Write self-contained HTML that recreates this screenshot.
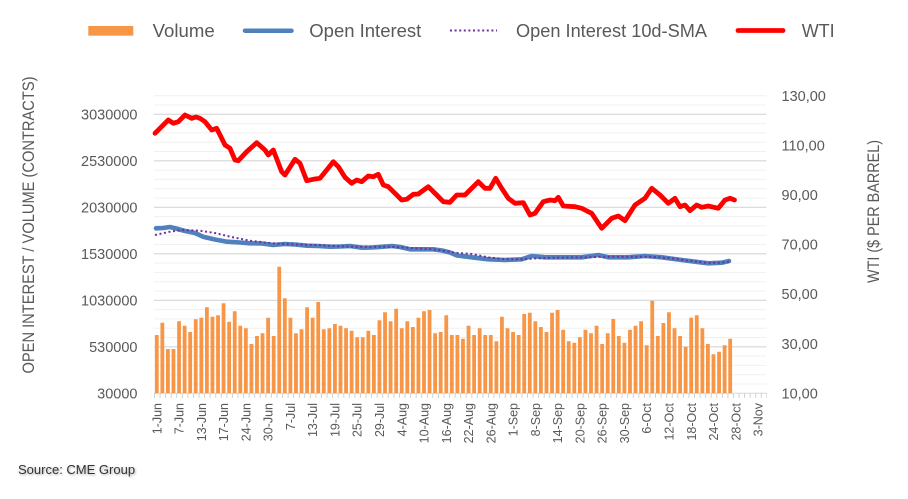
<!DOCTYPE html>
<html><head><meta charset="utf-8"><style>
html,body{margin:0;padding:0;background:#fff;}
body{width:908px;height:499px;overflow:hidden;position:relative;font-family:"Liberation Sans",sans-serif;}
svg{position:absolute;left:0;top:0;}
.src{position:absolute;left:18px;top:462px;font-size:13px;color:#333;text-shadow:1px 1px 2px rgba(0,0,0,0.35);white-space:nowrap;}
</style></head><body>
<svg width="908" height="499" viewBox="0 0 908 499" xmlns="http://www.w3.org/2000/svg" font-family="Liberation Sans, sans-serif">
<!-- minor gridlines -->
<line x1="460.2" y1="95.2" x2="460.2" y2="393.3" stroke="#f0f0f0" stroke-width="612.4" stroke-dasharray="1 8.3"/>
<!-- major gridlines -->
<g stroke="#d9d9d9" stroke-width="1.2">
<line x1="154" y1="346.8" x2="766.4" y2="346.8"/>
<line x1="154" y1="300.3" x2="766.4" y2="300.3"/>
<line x1="154" y1="253.8" x2="766.4" y2="253.8"/>
<line x1="154" y1="207.3" x2="766.4" y2="207.3"/>
<line x1="154" y1="160.8" x2="766.4" y2="160.8"/>
<line x1="154" y1="114.3" x2="766.4" y2="114.3"/>
</g>
<!-- axis + ticks -->
<line x1="154" y1="393.3" x2="766.4" y2="393.3" stroke="#d9d9d9" stroke-width="1"/>
<line x1="154" y1="395.6" x2="767" y2="395.6" stroke="#d0d0d0" stroke-width="4.6" stroke-dasharray="1 4.567"/>
<!-- bars -->
<path fill="#f79646" d="
M154.88 393.3V335h3.8V393.3Z
M160.45 393.3V322.7h3.8V393.3Z
M166.01 393.3V349h3.8V393.3Z
M171.58 393.3V349h3.8V393.3Z
M177.15 393.3V321.3h3.8V393.3Z
M182.72 393.3V325.7h3.8V393.3Z
M188.28 393.3V332h3.8V393.3Z
M193.85 393.3V319.3h3.8V393.3Z
M199.42 393.3V317.7h3.8V393.3Z
M204.98 393.3V307.3h3.8V393.3Z
M210.55 393.3V316.7h3.8V393.3Z
M216.12 393.3V315.3h3.8V393.3Z
M221.68 393.3V303.3h3.8V393.3Z
M227.25 393.3V321.7h3.8V393.3Z
M232.82 393.3V311.3h3.8V393.3Z
M238.39 393.3V325.7h3.8V393.3Z
M243.95 393.3V328.3h3.8V393.3Z
M249.52 393.3V344h3.8V393.3Z
M255.09 393.3V336h3.8V393.3Z
M260.65 393.3V333.3h3.8V393.3Z
M266.22 393.3V317.7h3.8V393.3Z
M271.79 393.3V336h3.8V393.3Z
M277.35 393.3V266.7h3.8V393.3Z
M282.92 393.3V298.3h3.8V393.3Z
M288.49 393.3V317.7h3.8V393.3Z
M294.06 393.3V333.3h3.8V393.3Z
M299.62 393.3V329.3h3.8V393.3Z
M305.19 393.3V307.3h3.8V393.3Z
M310.76 393.3V317.7h3.8V393.3Z
M316.32 393.3V302h3.8V393.3Z
M321.89 393.3V329.3h3.8V393.3Z
M327.46 393.3V328.3h3.8V393.3Z
M333.02 393.3V324h3.8V393.3Z
M338.59 393.3V325.7h3.8V393.3Z
M344.16 393.3V328.3h3.8V393.3Z
M349.73 393.3V330.7h3.8V393.3Z
M355.29 393.3V337.3h3.8V393.3Z
M360.86 393.3V337.3h3.8V393.3Z
M366.43 393.3V330.7h3.8V393.3Z
M371.99 393.3V335h3.8V393.3Z
M377.56 393.3V320.3h3.8V393.3Z
M383.13 393.3V312.3h3.8V393.3Z
M388.69 393.3V321.3h3.8V393.3Z
M394.26 393.3V308.7h3.8V393.3Z
M399.83 393.3V328.3h3.8V393.3Z
M405.40 393.3V321.3h3.8V393.3Z
M410.96 393.3V327h3.8V393.3Z
M416.53 393.3V317.7h3.8V393.3Z
M422.10 393.3V311.3h3.8V393.3Z
M427.66 393.3V310h3.8V393.3Z
M433.23 393.3V333.3h3.8V393.3Z
M438.80 393.3V332h3.8V393.3Z
M444.36 393.3V315.3h3.8V393.3Z
M449.93 393.3V335h3.8V393.3Z
M455.50 393.3V335h3.8V393.3Z
M461.07 393.3V338.7h3.8V393.3Z
M466.63 393.3V325.7h3.8V393.3Z
M472.20 393.3V335h3.8V393.3Z
M477.77 393.3V328.3h3.8V393.3Z
M483.33 393.3V335h3.8V393.3Z
M488.90 393.3V335h3.8V393.3Z
M494.47 393.3V341.3h3.8V393.3Z
M500.03 393.3V316.7h3.8V393.3Z
M505.60 393.3V328.3h3.8V393.3Z
M511.17 393.3V332h3.8V393.3Z
M516.74 393.3V335h3.8V393.3Z
M522.30 393.3V314h3.8V393.3Z
M527.87 393.3V312.7h3.8V393.3Z
M533.44 393.3V321.3h3.8V393.3Z
M539.00 393.3V327h3.8V393.3Z
M544.57 393.3V332h3.8V393.3Z
M550.14 393.3V312.7h3.8V393.3Z
M555.70 393.3V310h3.8V393.3Z
M561.27 393.3V329.7h3.8V393.3Z
M566.84 393.3V341.3h3.8V393.3Z
M572.41 393.3V342.7h3.8V393.3Z
M577.97 393.3V337.3h3.8V393.3Z
M583.54 393.3V329.7h3.8V393.3Z
M589.11 393.3V333.3h3.8V393.3Z
M594.67 393.3V325.7h3.8V393.3Z
M600.24 393.3V344h3.8V393.3Z
M605.81 393.3V333.3h3.8V393.3Z
M611.37 393.3V319h3.8V393.3Z
M616.94 393.3V336h3.8V393.3Z
M622.51 393.3V342.7h3.8V393.3Z
M628.08 393.3V329.7h3.8V393.3Z
M633.64 393.3V325.7h3.8V393.3Z
M639.21 393.3V321.3h3.8V393.3Z
M644.78 393.3V345.3h3.8V393.3Z
M650.34 393.3V300.7h3.8V393.3Z
M655.91 393.3V336h3.8V393.3Z
M661.48 393.3V323h3.8V393.3Z
M667.04 393.3V312.3h3.8V393.3Z
M672.61 393.3V328.3h3.8V393.3Z
M678.18 393.3V336h3.8V393.3Z
M683.75 393.3V346.7h3.8V393.3Z
M689.31 393.3V317.7h3.8V393.3Z
M694.88 393.3V315.3h3.8V393.3Z
M700.45 393.3V328.3h3.8V393.3Z
M706.01 393.3V344h3.8V393.3Z
M711.58 393.3V354.3h3.8V393.3Z
M717.15 393.3V351.7h3.8V393.3Z
M722.71 393.3V345.3h3.8V393.3Z
M728.28 393.3V338.7h3.8V393.3Z"/>
<!-- open interest -->
<polyline fill="none" stroke="#4f81bd" stroke-width="4.6" stroke-linejoin="round" stroke-linecap="round" points="156,228.3 163,228 170,227 176,228.5 185,231 195,233 203,236.7 215,239.5 227,241.7 240,242.5 250,243.3 262,243.5 273,245 285,244 295,244.5 307,245.7 318,246 330,246.7 340,246.5 350,246 362,247.7 372,247.5 383,246.7 392,246 400,247 410,249.3 420,249.3 433,249.3 442,250.5 450,252.5 457,255.5 471.7,257.3 488.3,259.3 505,260 521.7,259.3 531.7,256 545,257.3 565,257.3 581.7,257.3 598.3,255 608.3,257.3 628.3,257.3 645,256 661.7,257.3 681.7,260 695,261.7 708.3,263.3 721.7,262.7 729,261"/>
<!-- SMA -->
<polyline fill="none" stroke="#7030a0" stroke-width="2" stroke-dasharray="2 2.6" points="155,235 170,231.7 183.3,230 200,230.7 216.7,233.3 230,236.7 250,240.7 266.7,242.7 283.3,244 300,244.7 316.7,245 333.3,246 350,246.7 366.7,246.7 383.3,246.7 400,247.3 416.7,248.3 433.3,249.3 450,251.7 455,252.7 471.7,254 488,257.3 505,259.3 521.7,259.3 538,258.3 555,257.7 588,257.3 605,256.7 638,256.7 655,257 671.7,258.3 688.3,260.7 705,262.7 721.7,262.7 730,261.7"/>
<!-- WTI -->
<polyline fill="none" stroke="#ff0000" stroke-width="4.8" stroke-linejoin="round" stroke-linecap="round" points="155,133.3 160,128.3 168.3,120 173.3,123.3 178.3,121.7 185,115 191.7,118.3 196,117 200,118.3 205,121.7 211.7,130 216.7,128.3 225,145 230,148.3 235,160 238.3,160.7 246.7,151.7 256.7,142.7 265,150 268.3,155 273.3,150 281.7,171.7 285,175 295,159.3 300,163.3 306.7,180.7 313.3,179.3 320,178.3 326.7,170 333.3,161.7 338.3,166.7 345,177.3 351.7,183.3 356.7,180 361.7,181.7 368.3,176 373.3,176.7 378.3,174.3 383.3,185 388.3,186.7 395,193.3 401.7,200 406.7,199.3 413.3,194.3 418.3,194 428.3,186.7 436.7,195 443.3,201.7 450,202.3 456.7,195 465,195 471.7,188.3 478.3,181.7 485,188.3 490,188.3 495.7,178.3 501.7,188.3 508.3,198.3 515,203.3 523.3,202.7 530,215 535,213.3 543.3,201.7 550,200 555,200.7 558.3,197.3 563.3,206 575,206.7 581.7,208.3 588.3,211.7 591.7,213.3 601.7,228.3 611.7,218.3 618.3,216 625,220.7 635,205 645,198.3 651.7,188.3 660,195 668.3,203.3 675,198.3 680,206.7 685,205 690,210.7 696.7,205 701.7,207.3 708.3,206 718.3,208.3 725,200 730,198.3 734.5,200"/>
<!-- left tick labels -->
<g font-size="14.5" fill="#595959" text-anchor="end">
<text x="137.5" y="119.3">3030000</text>
<text x="137.5" y="165.8">2530000</text>
<text x="137.5" y="212.3">2030000</text>
<text x="137.5" y="258.8">1530000</text>
<text x="137.5" y="305.3">1030000</text>
<text x="137.5" y="351.8">530000</text>
<text x="137.5" y="398.3">30000</text>
</g>
<!-- right tick labels -->
<g font-size="14.5" fill="#595959">
<text x="781.5" y="101">130,00</text>
<text x="781.5" y="150.5">110,00</text>
<text x="781.5" y="200">90,00</text>
<text x="781.5" y="249.4">70,00</text>
<text x="781.5" y="299">50,00</text>
<text x="781.5" y="348.8">30,00</text>
<text x="781.5" y="398.3">10,00</text>
</g>
<!-- axis titles -->
<text transform="translate(34,225) rotate(-90)" text-anchor="middle" font-size="17" fill="#595959" textLength="297" lengthAdjust="spacingAndGlyphs">OPEN INTEREST / VOLUME (CONTRACTS)</text>
<text transform="translate(879,211.5) rotate(-90)" text-anchor="middle" font-size="17" fill="#595959" textLength="143" lengthAdjust="spacingAndGlyphs">WTI ($ PER BARREL)</text>
<!-- x labels -->
<g font-size="12.5" fill="#595959" text-anchor="end">
<text transform="translate(161.3,403) rotate(-90)">1-Jun</text>
<text transform="translate(183.5,403) rotate(-90)">7-Jun</text>
<text transform="translate(205.8,403) rotate(-90)">13-Jun</text>
<text transform="translate(228.1,403) rotate(-90)">17-Jun</text>
<text transform="translate(250.4,403) rotate(-90)">24-Jun</text>
<text transform="translate(272.6,403) rotate(-90)">30-Jun</text>
<text transform="translate(294.9,403) rotate(-90)">7-Jul</text>
<text transform="translate(317.2,403) rotate(-90)">13-Jul</text>
<text transform="translate(339.5,403) rotate(-90)">19-Jul</text>
<text transform="translate(361.7,403) rotate(-90)">25-Jul</text>
<text transform="translate(384.0,403) rotate(-90)">29-Jul</text>
<text transform="translate(406.3,403) rotate(-90)">4-Aug</text>
<text transform="translate(428.5,403) rotate(-90)">10-Aug</text>
<text transform="translate(450.8,403) rotate(-90)">16-Aug</text>
<text transform="translate(473.1,403) rotate(-90)">22-Aug</text>
<text transform="translate(495.4,403) rotate(-90)">26-Aug</text>
<text transform="translate(517.6,403) rotate(-90)">1-Sep</text>
<text transform="translate(539.9,403) rotate(-90)">8-Sep</text>
<text transform="translate(562.2,403) rotate(-90)">14-Sep</text>
<text transform="translate(584.5,403) rotate(-90)">20-Sep</text>
<text transform="translate(606.7,403) rotate(-90)">26-Sep</text>
<text transform="translate(629.0,403) rotate(-90)">30-Sep</text>
<text transform="translate(651.2,403) rotate(-90)">6-Oct</text>
<text transform="translate(673.5,403) rotate(-90)">12-Oct</text>
<text transform="translate(695.8,403) rotate(-90)">18-Oct</text>
<text transform="translate(718.1,403) rotate(-90)">24-Oct</text>
<text transform="translate(740.3,403) rotate(-90)">28-Oct</text>
<text transform="translate(762.6,403) rotate(-90)">3-Nov</text>
</g>
<!-- legend -->
<rect x="88.3" y="26" width="45" height="9.7" fill="#f79646"/>
<line x1="245" y1="30.7" x2="291.5" y2="30.7" stroke="#4f81bd" stroke-width="4.5" stroke-linecap="round"/>
<line x1="450" y1="30.5" x2="497" y2="30.5" stroke="#7030a0" stroke-width="2" stroke-dasharray="2 2.6"/>
<line x1="738" y1="30.5" x2="783" y2="30.5" stroke="#ff0000" stroke-width="4.8" stroke-linecap="round"/>
<g font-size="18" fill="#595959">
<text x="152.7" y="37" textLength="62" lengthAdjust="spacingAndGlyphs">Volume</text>
<text x="309.3" y="37" textLength="112" lengthAdjust="spacingAndGlyphs">Open Interest</text>
<text x="516" y="37" textLength="191" lengthAdjust="spacingAndGlyphs">Open Interest 10d-SMA</text>
<text x="801.7" y="37" textLength="33" lengthAdjust="spacingAndGlyphs">WTI</text>
</g>
</svg>
<div class="src">Source: CME Group</div>
</body></html>
